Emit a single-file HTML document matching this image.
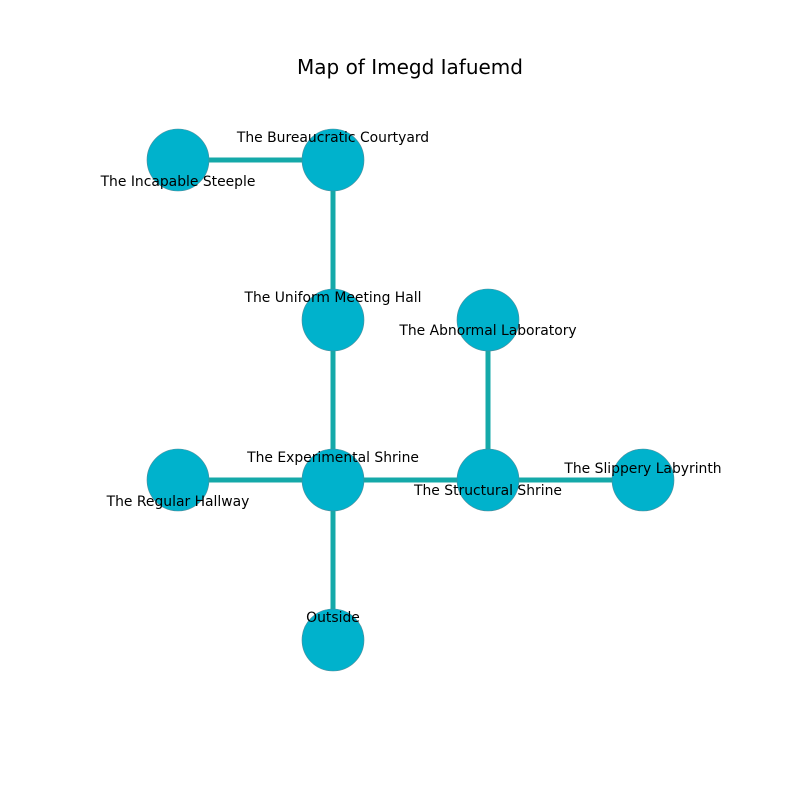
<!DOCTYPE html>
<html><head><style>body{margin:0;background:#fff}</style></head><body>
<svg width="800" height="800" xmlns="http://www.w3.org/2000/svg" font-family="DejaVu Sans, Liberation Sans, sans-serif">
<rect width="800" height="800" fill="#fff"/>
<text x="410" y="74" font-size="20" text-anchor="middle" fill="#000">Map of Imegd Iafuemd</text>
<g stroke="#14a9a9" stroke-width="5">
<line x1="178" y1="160" x2="333" y2="160"/>
<line x1="333" y1="160" x2="333" y2="640"/>
<line x1="178" y1="480" x2="643" y2="480"/>
<line x1="488" y1="320" x2="488" y2="480"/>
</g>
<g fill="#00b2cc" stroke="#4a8a99" stroke-width="0.6">
<circle cx="178" cy="160" r="31"/>
<circle cx="333" cy="160" r="31"/>
<circle cx="333" cy="320" r="31"/>
<circle cx="488" cy="320" r="31"/>
<circle cx="178" cy="480" r="31"/>
<circle cx="333" cy="480" r="31"/>
<circle cx="488" cy="480" r="31"/>
<circle cx="643" cy="480" r="31"/>
<circle cx="333" cy="640" r="31"/>
</g>
<g font-size="13.9" text-anchor="middle" fill="#000">
<text x="333" y="142">The Bureaucratic Courtyard</text>
<text x="178" y="186">The Incapable Steeple</text>
<text x="333" y="302">The Uniform Meeting Hall</text>
<text x="488" y="335">The Abnormal Laboratory</text>
<text x="333" y="462">The Experimental Shrine</text>
<text x="178" y="506">The Regular Hallway</text>
<text x="488" y="495">The Structural Shrine</text>
<text x="643" y="473">The Slippery Labyrinth</text>
<text x="333" y="622">Outside</text>
</g>
</svg>
</body></html>
